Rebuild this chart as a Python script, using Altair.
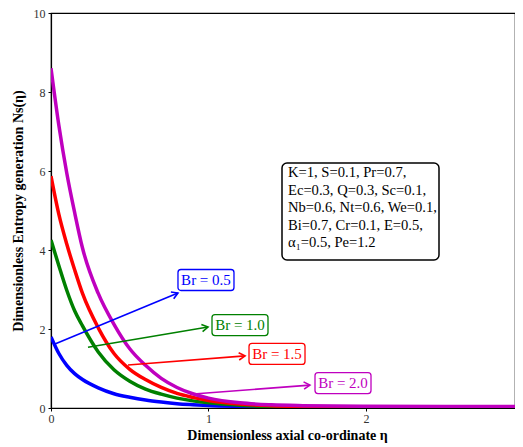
import math
import altair as alt
import pandas as pd

eta = [0, 0.05, 0.1, 0.15, 0.2, 0.3, 0.4, 0.5, 0.6, 0.7, 0.8, 0.9, 1.0, 1.2, 1.4, 1.6, 1.8, 2.0, 2.5, 3.0]
ns_br05 = [1.80, 1.38, 1.08, 0.87, 0.72, 0.51, 0.36, 0.27, 0.20, 0.15, 0.11, 0.085, 0.065, 0.04, 0.025, 0.02, 0.015, 0.01, 0.01, 0.01]
ns_br10 = [4.25, 3.60, 2.98, 2.46, 2.08, 1.42, 0.97, 0.68, 0.48, 0.35, 0.25, 0.18, 0.13, 0.07, 0.04, 0.03, 0.02, 0.015, 0.01, 0.01]
ns_br15 = [5.87, 4.90, 4.15, 3.50, 2.90, 2.03, 1.38, 0.98, 0.72, 0.52, 0.37, 0.27, 0.19, 0.10, 0.06, 0.04, 0.03, 0.025, 0.02, 0.02]
ns_br20 = [8.60, 7.15, 5.95, 4.95, 4.05, 2.90, 2.12, 1.50, 1.08, 0.75, 0.52, 0.36, 0.25, 0.13, 0.08, 0.06, 0.05, 0.045, 0.04, 0.04]

series_names = ["Br = 0.5", "Br = 1.0", "Br = 1.5", "Br = 2.0"]
series_colors = ["#0000ff", "#008000", "#ff0000", "#bf00bf"]

# annotation arrows (data coordinates)
arrow_x0 = [0.025, 0.235, 0.489, 0.883]
arrow_y0 = [1.62, 1.54, 1.09, 0.35]
arrow_x1 = [0.806, 0.997, 1.232, 1.644]
arrow_y1 = [2.91, 2.05, 1.32, 0.58]
label_x = [0.984, 1.20, 1.435, 1.854]
label_y = [3.24, 2.10, 1.37, 0.63]

param_lines = [
    "K=1, S=0.1, Pr=0.7,",
    "Ec=0.3, Q=0.3, Sc=0.1,",
    "Nb=0.6, Nt=0.6, We=0.1,",
    "Bi=0.7, Cr=0.1, E=0.5,",
    "α₁=0.5, Pe=1.2",
]

UNIT_X, UNIT_Y = 157.5, 39.5
W, H = 464, 395
XMAX, YMAX = W / UNIT_X, 10.0
sx, sy = UNIT_X, UNIT_Y

rows = []
for name, vals in zip(series_names, [ns_br05, ns_br10, ns_br15, ns_br20]):
    for e, v in zip(eta, vals):
        rows.append({"eta": e, "ns": v, "series": name})
df = pd.DataFrame(rows)

color_scale = alt.Scale(domain=series_names, range=series_colors)
xs = alt.Scale(domain=[0, XMAX], nice=False)
ys = alt.Scale(domain=[0, YMAX], nice=False)

lines = alt.Chart(df).mark_line(strokeWidth=3.5, interpolate="monotone", clip=True).encode(
    x=alt.X("eta:Q", scale=xs, axis=alt.Axis(values=[0, 1, 2], format="d", titleX=236,
                                              title="Dimensionless axial co-ordinate η")),
    y=alt.Y("ns:Q", scale=ys, axis=alt.Axis(values=[0, 2, 4, 6, 8, 10], format="d",
                                             title="Dimensionless Entropy generation Ns(η)")),
    color=alt.Color("series:N", scale=color_scale, legend=None),
)

half_w, half_h = 28 / sx, 10.5 / sy
adf = pd.DataFrame({
    "series": series_names,
    "x0": arrow_x0, "y0": arrow_y0, "x1": arrow_x1, "y1": arrow_y1,
    "lx": label_x, "ly": label_y,
    "bx0": [v - half_w for v in label_x], "bx1": [v + half_w for v in label_x],
    "by0": [v - half_h for v in label_y], "by1": [v + half_h for v in label_y],
    "angle": [
        math.degrees(math.atan2(-(b1 - b0) * sy, (a1 - a0) * sx)) % 360
        for a0, b0, a1, b1 in zip(arrow_x0, arrow_y0, arrow_x1, arrow_y1)
    ],
})

arrows = alt.Chart(adf).mark_rule(strokeWidth=1.6).encode(
    x="x0:Q", y="y0:Q", x2="x1:Q", y2="y1:Q",
    color=alt.Color("series:N", scale=color_scale, legend=None),
)
heads = alt.Chart(adf).mark_point(
    shape="M-1,-0.6L0,0L-1,0.6", filled=False, strokeWidth=1.6, size=150, opacity=1
).encode(
    x="x1:Q", y="y1:Q", angle=alt.Angle("angle:Q", scale=None),
    color=alt.Color("series:N", scale=color_scale, legend=None),
)
boxes = alt.Chart(adf).mark_rect(fill="white", strokeWidth=1.3, cornerRadius=3).encode(
    x="bx0:Q", x2="bx1:Q", y="by0:Q", y2="by1:Q",
    stroke=alt.Color("series:N", scale=color_scale, legend=None),
)
labels = alt.Chart(adf).mark_text(font="Liberation Serif", fontSize=15, baseline="middle", align="center").encode(
    x="lx:Q", y="ly:Q", text="series:N",
    color=alt.Color("series:N", scale=color_scale, legend=None),
)

pbox_df = pd.DataFrame({"x0": [231 / sx], "x1": [388 / sx], "y0": [3.75], "y1": [6.20]})
pbox = alt.Chart(pbox_df).mark_rect(fill="white", stroke="black", strokeWidth=1.5, cornerRadius=5).encode(
    x="x0:Q", x2="x1:Q", y="y0:Q", y2="y1:Q"
)
ptext_df = pd.DataFrame({
    "t": param_lines,
    "x": [237 / sx] * len(param_lines),
    "y": [5.95 - i * 17.6 / sy for i in range(len(param_lines))],
})
ptext = alt.Chart(ptext_df).mark_text(font="Liberation Serif", fontSize=14.6, align="left", baseline="middle", color="black").encode(
    x="x:Q", y="y:Q", text="t:N"
)

chart = alt.layer(lines, arrows, heads, boxes, labels, pbox, ptext).properties(
    width=W, height=H,
    autosize=alt.AutoSizeParams(type="none"),
    padding={"left": 43, "top": 5, "right": 0, "bottom": 39},
).configure_view(stroke="black", strokeWidth=1.2).configure_axis(
    grid=False, domainColor="black", domainWidth=1.2, tickColor="black", tickSize=3,
    labelFont="Liberation Serif", labelFontSize=12, labelColor="#333333", labelFlush=False,
    titleFont="Liberation Serif", titleFontSize=14, titleFontWeight="bold", titleColor="black",
).configure_axisX(titlePadding=4, labelPadding=2).configure_axisY(titlePadding=8, labelPadding=3)

chart.save("out.html", embed_options={"renderer": "svg", "actions": False})
